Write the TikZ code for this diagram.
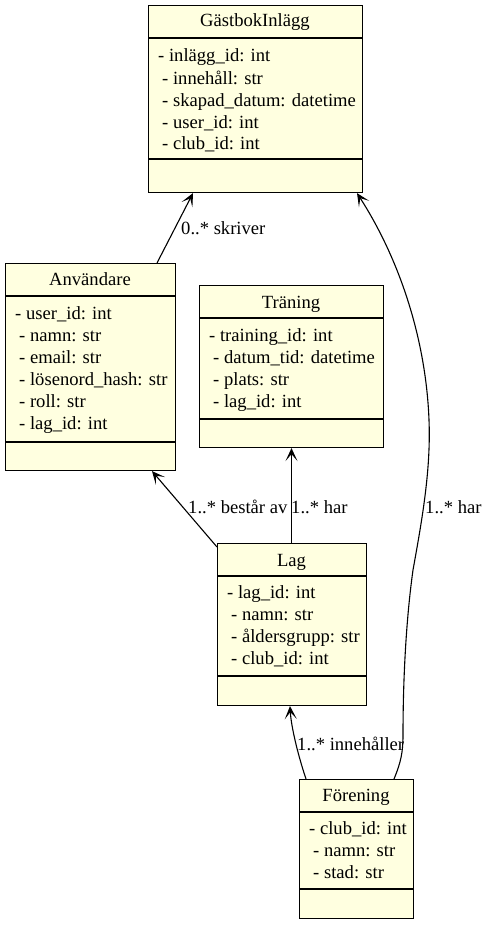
\documentclass[tikz,border=0pt]{standalone}
\usepackage{fontspec}
\setmainfont{LiberationSerif}[Extension=.ttf, UprightFont=*-Regular, BoldFont=*-Bold]
\usetikzlibrary{arrows.meta}
\definecolor{classfill}{HTML}{FFFFE0}
\newcommand\umlfont{\rmfamily\fontsize{18.6pt}{22pt}\selectfont}
\tikzset{
  classbox/.style={draw=black, fill=classfill, line width=1.1pt, rectangle, inner sep=0pt, anchor=north west},
  attr/.style={anchor=base west, inner sep=0pt, font=\umlfont},
  ctitle/.style={anchor=base, inner sep=0pt, font=\umlfont},
  elabel/.style={anchor=base west, inner sep=0pt, font=\umlfont},
  assoc/.style={draw=black, line width=1.1pt, -{Stealth[length=13pt,width=12pt,inset=7pt]}},
  sepline/.style={draw=black, line width=1.1pt}
}
\begin{document}
\begin{tikzpicture}[x=1pt,y=-1pt]
\useasboundingbox (0,0) rectangle (486,926);

% GästbokInlägg
\node[classbox, minimum width=214pt, minimum height=187pt] (gb) at (148,5) {};
\draw[sepline] (gb.west |- 0,38) -- (gb.east |- 0,38);
\draw[sepline] (gb.west |- 0,159) -- (gb.east |- 0,159);
\node[ctitle] (gbt) at (255,27) {GästbokInlägg};
\node[attr] (gb1) at (158,61) {- inlägg\_id: int};
\node[attr] (gb2) at (162,84) {- innehåll: str};
\node[attr] (gb3) at (162,106) {- skapad\_datum: datetime};
\node[attr] (gb4) at (162,128) {- user\_id: int};
\node[attr] (gb5) at (162,149) {- club\_id: int};

% Användare
\node[classbox, minimum width=170pt, minimum height=207pt] (anv) at (5,263) {};
\draw[sepline] (anv.west |- 0,296) -- (anv.east |- 0,296);
\draw[sepline] (anv.west |- 0,442) -- (anv.east |- 0,442);
\node[ctitle] (anvt) at (90,285) {Användare};
\node[attr] (anv1) at (15,319) {- user\_id: int};
\node[attr] (anv2) at (19,341) {- namn: str};
\node[attr] (anv3) at (19,363) {- email: str};
\node[attr] (anv4) at (19,385) {- lösenord\_hash: str};
\node[attr] (anv5) at (19,407) {- roll: str};
\node[attr] (anv6) at (19,429) {- lag\_id: int};

% Träning
\node[classbox, minimum width=184pt, minimum height=162pt] (tr) at (199,285) {};
\draw[sepline] (tr.west |- 0,318) -- (tr.east |- 0,318);
\draw[sepline] (tr.west |- 0,419) -- (tr.east |- 0,419);
\node[ctitle] (trt) at (291,308) {Träning};
\node[attr] (tr1) at (209,341) {- training\_id: int};
\node[attr] (tr2) at (213,363) {- datum\_tid: datetime};
\node[attr] (tr3) at (213,385) {- plats: str};
\node[attr] (tr4) at (213,407) {- lag\_id: int};

% Lag
\node[classbox, minimum width=149pt, minimum height=162pt] (lag) at (217,543) {};
\draw[sepline] (lag.west |- 0,576) -- (lag.east |- 0,576);
\draw[sepline] (lag.west |- 0,676) -- (lag.east |- 0,676);
\node[ctitle] (lagt) at (291.5,566) {Lag};
\node[attr] (lag1) at (227,598) {- lag\_id: int};
\node[attr] (lag2) at (231,620) {- namn: str};
\node[attr] (lag3) at (231,642) {- åldersgrupp: str};
\node[attr] (lag4) at (231,664) {- club\_id: int};

% Förening
\node[classbox, minimum width=114pt, minimum height=139pt] (for) at (299,779) {};
\draw[sepline] (for.west |- 0,812) -- (for.east |- 0,812);
\draw[sepline] (for.west |- 0,889) -- (for.east |- 0,889);
\node[ctitle] (fort) at (356,801) {Förening};
\node[attr] (for1) at (309,834) {- club\_id: int};
\node[attr] (for2) at (313,856) {- namn: str};
\node[attr] (for3) at (313,878) {- stad: str};

% connectors
\draw[assoc] ([xshift=152pt]anv.north west) -- ([xshift=45pt]gb.south west);
\node[elabel] (l1) at (181,234) {0..* skriver};

\draw[assoc] ([yshift=-4pt]lag.north west) -- ([xshift=147pt]anv.south west);
\node[elabel] (l2) at (188,513) {1..* består av};

\draw[assoc] (lag.north -| 291.5,0) -- (tr.south -| 291.5,0);
\node[elabel] (l3) at (291,513) {1..* har};

\draw[assoc] ([xshift=7pt]for.north west) .. controls (297,752) and (291,725) .. ([xshift=73pt]lag.south west);
\node[elabel] (l4) at (297,750) {1..* innehåller};

\draw[assoc] ([xshift=95pt]for.north west) .. controls (401,762) and (403,752) .. (403,735)
  .. controls (403,680) and (406,620) .. (413,570)
  .. controls (422,520) and (431,470) .. (429,420)
  .. controls (426,340) and (400,260) .. ([xshift=209pt]gb.south west);
\node[elabel] (l5) at (425,513) {1..* har};
\end{tikzpicture}
\end{document}
